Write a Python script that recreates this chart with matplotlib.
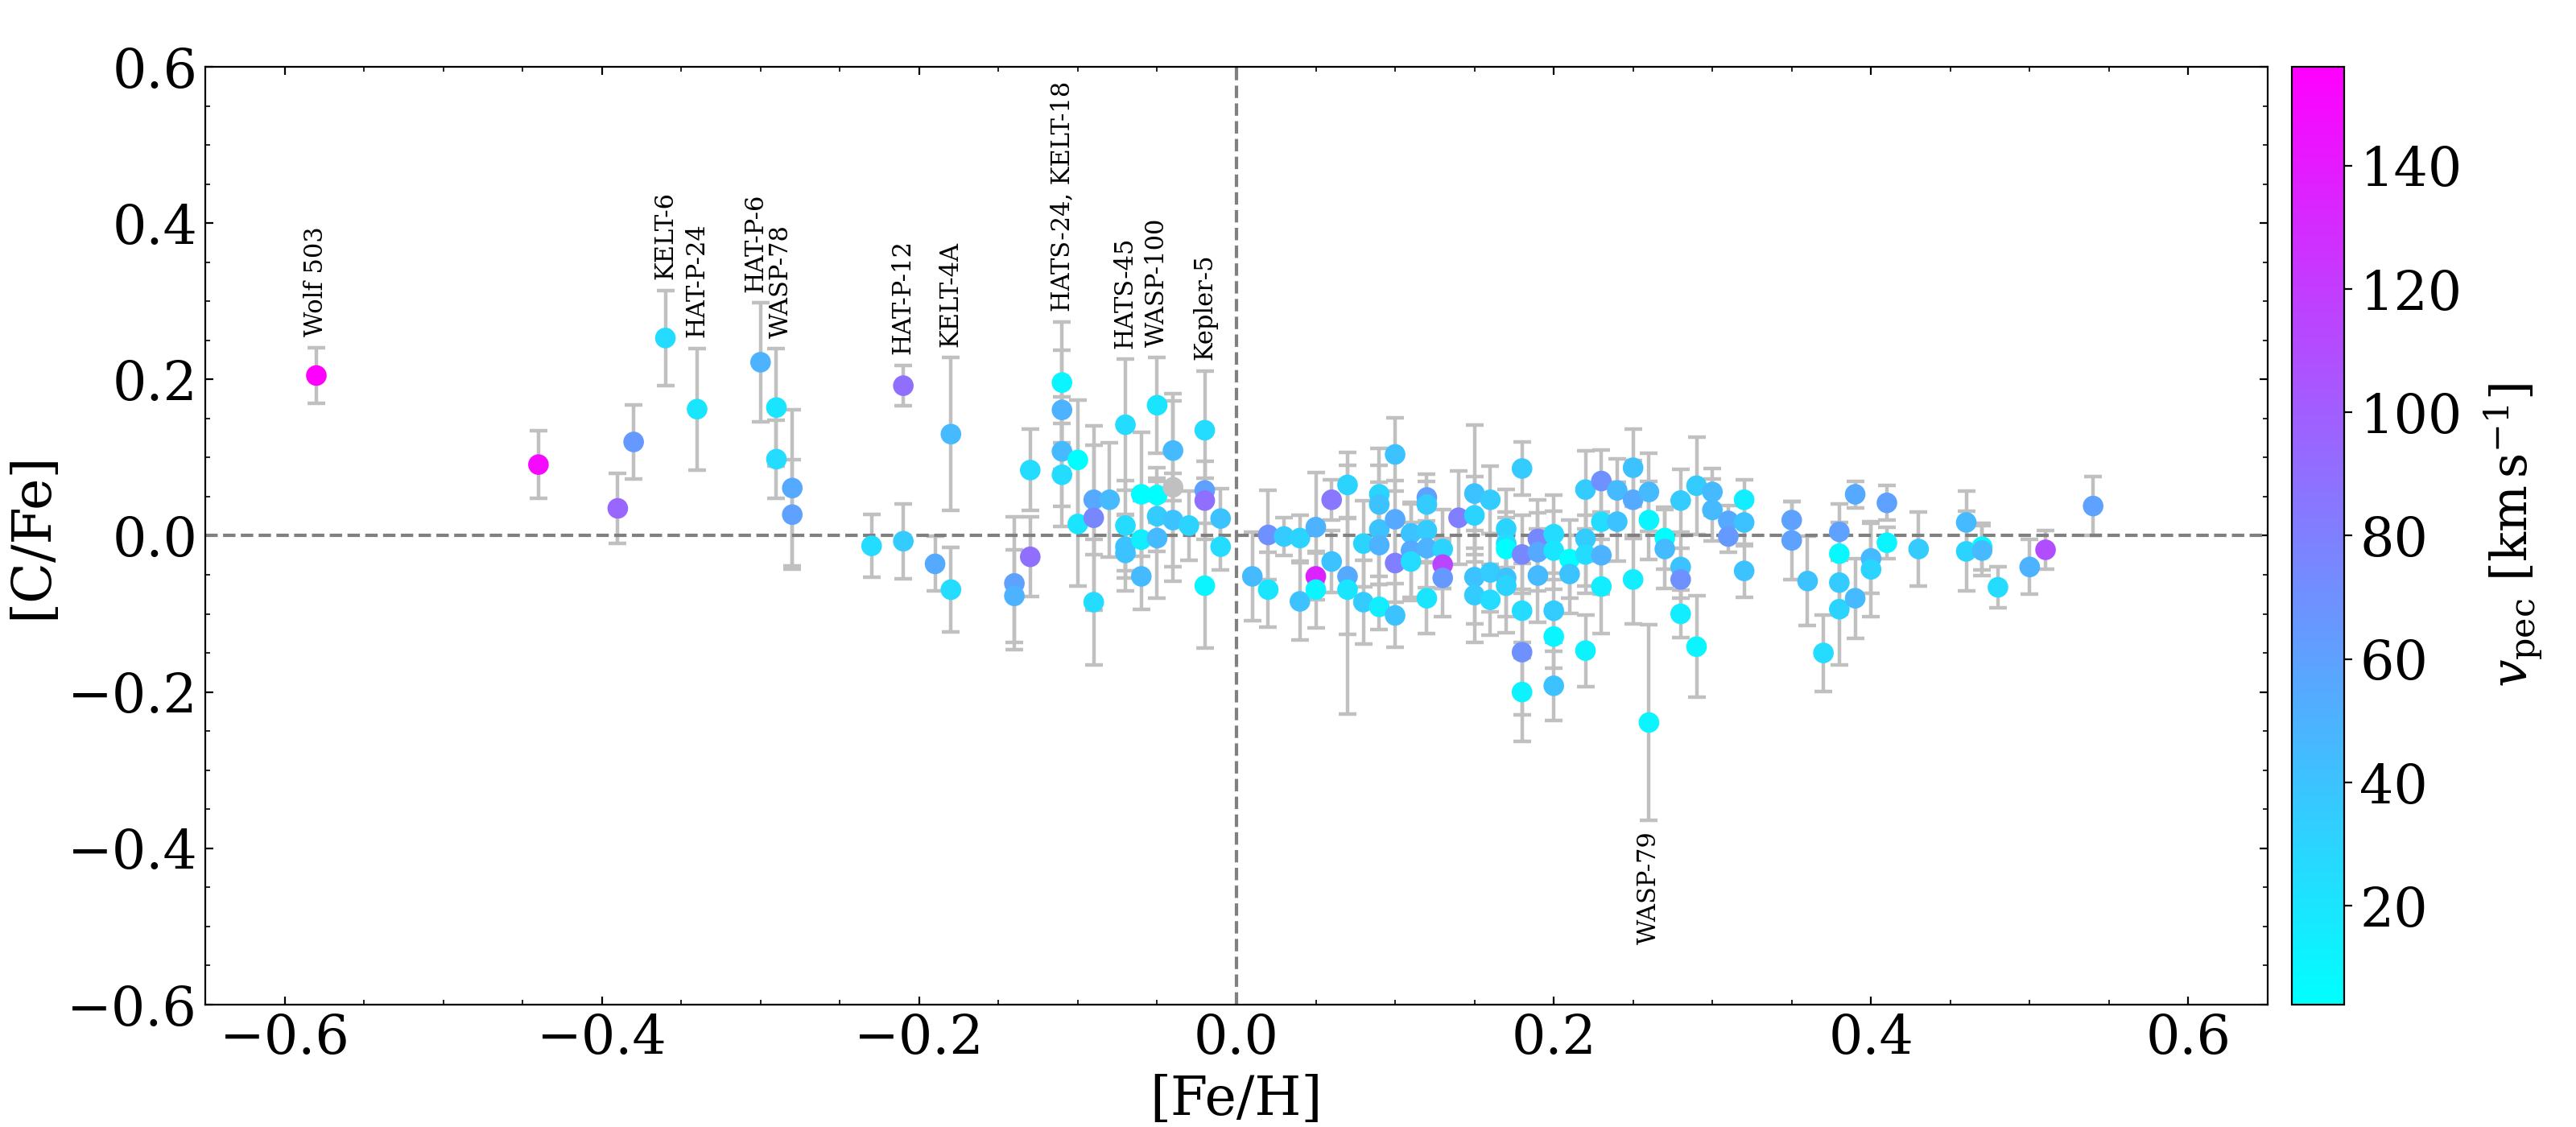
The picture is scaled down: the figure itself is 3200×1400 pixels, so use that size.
import numpy as np
import matplotlib
matplotlib.use("Agg")
import matplotlib.pyplot as plt

plt.rcParams['font.family'] = ['DejaVu Serif']
plt.rcParams['mathtext.fontset'] = 'dejavuserif'

# ---------------- data ----------------
feh = [-0.58, -0.44, -0.39, -0.38, -0.36, -0.34, -0.30, -0.29, -0.29, -0.28,
       -0.28, -0.23, -0.21, -0.21, -0.19, -0.18, -0.18, -0.14, -0.14, -0.13,
       -0.13, -0.11, -0.11, -0.11, -0.11, -0.10, -0.10, -0.09, -0.09, -0.09,
       -0.08, -0.07, -0.07, -0.07, -0.07, -0.06, -0.06, -0.06, -0.05, -0.05,
       -0.05, -0.05, -0.04, -0.04, -0.04, -0.03, -0.02, -0.02, -0.02, -0.02,
       -0.01, -0.01,
       0.01, 0.02, 0.02, 0.03, 0.04, 0.04, 0.05, 0.05, 0.05, 0.06,
       0.06, 0.07, 0.07, 0.07, 0.08, 0.08, 0.09, 0.09, 0.09, 0.09,
       0.09, 0.10, 0.10, 0.10, 0.10, 0.11, 0.11, 0.11, 0.12, 0.12,
       0.12, 0.12, 0.12, 0.13, 0.13, 0.13, 0.14, 0.15, 0.15, 0.15,
       0.15, 0.16, 0.16, 0.16, 0.17, 0.17, 0.17, 0.17, 0.17, 0.18,
       0.18, 0.18, 0.18, 0.18, 0.19, 0.19, 0.19, 0.20, 0.20, 0.20,
       0.20, 0.20, 0.21, 0.21, 0.22, 0.22, 0.22, 0.22, 0.23, 0.23,
       0.23, 0.23, 0.24, 0.24, 0.25, 0.25, 0.25, 0.26, 0.26, 0.26,
       0.27, 0.27, 0.28, 0.28, 0.28, 0.28, 0.29, 0.29, 0.30, 0.30,
       0.31, 0.31, 0.32, 0.32, 0.32, 0.35, 0.35, 0.36, 0.37, 0.38,
       0.38, 0.38, 0.38, 0.39, 0.39, 0.40, 0.40, 0.41, 0.41, 0.43,
       0.46, 0.46, 0.47, 0.47, 0.48, 0.50, 0.51, 0.54]

cfe = [0.205, 0.091, 0.035, 0.120, 0.253, 0.162, 0.222, 0.164, 0.098, 0.061,
       0.027, -0.013, -0.007, 0.192, -0.036, 0.130, -0.069, -0.061, -0.077, 0.084,
       -0.027, 0.196, 0.161, 0.108, 0.078, 0.097, 0.015, 0.046, 0.023, -0.085,
       0.046, 0.142, 0.013, -0.014, -0.022, 0.053, -0.005, -0.052, 0.167, 0.052,
       0.025, -0.003, 0.109, 0.062, 0.020, 0.013, 0.135, 0.058, 0.045, -0.064,
       0.022, -0.014,
       -0.052, 0.001, -0.069, -0.001, -0.003, -0.084, 0.011, -0.052, -0.069, 0.046,
       -0.033, 0.065, -0.052, -0.069, -0.010, -0.085, 0.053, 0.040, 0.008, -0.012,
       -0.091, 0.104, 0.021, -0.035, -0.102, 0.003, -0.019, -0.033, 0.049, 0.040,
       0.007, -0.016, -0.080, -0.017, -0.037, -0.054, 0.023, 0.054, 0.026, -0.053,
       -0.076, 0.046, -0.047, -0.082, 0.009, -0.010, -0.017, -0.054, -0.064, 0.086,
       -0.024, -0.096, -0.149, -0.200, -0.004, -0.021, -0.051, 0.002, -0.019, -0.096,
       -0.129, -0.192, -0.030, -0.049, 0.059, -0.004, -0.024, -0.147, 0.070, 0.018,
       -0.025, -0.065, 0.058, 0.018, 0.087, 0.046, -0.056, 0.056, 0.020, -0.239,
       -0.003, -0.017, 0.045, -0.040, -0.056, -0.100, 0.064, -0.142, 0.056, 0.033,
       0.019, -0.001, 0.046, 0.017, -0.045, 0.020, -0.006, -0.058, -0.150, 0.005,
       -0.023, -0.060, -0.094, 0.053, -0.080, -0.029, -0.043, 0.042, -0.009, -0.017,
       0.017, -0.020, -0.014, -0.019, -0.066, -0.040, -0.018, 0.038]

cfe_err = [0.036, 0.043, 0.045, 0.047, 0.061, 0.078, 0.076, 0.075, 0.050, 0.100,
           0.070, 0.040, 0.048, 0.026, 0.035, 0.098, 0.054, 0.085, 0.059, 0.052,
           0.051, 0.077, 0.076, 0.070, 0.066, 0.077, 0.079, 0.070, 0.118, 0.080,
           0.073, 0.084, 0.058, 0.040, 0.049, 0.079, 0.050, 0.042, 0.061, 0.035,
           0.045, 0.077, 0.064, 0.120, 0.060, 0.044, 0.076, 0.016, 0.050, 0.080,
           0.038, 0.030,
           0.057, 0.057, 0.048, 0.024, 0.029, 0.049, 0.070, 0.030, 0.049, 0.026,
           0.040, 0.042, 0.074, 0.159, 0.055, 0.054, 0.059, 0.050, 0.060, 0.050,
           0.029, 0.047, 0.050, 0.050, 0.041, 0.040, 0.060, 0.050, 0.030, 0.030,
           0.040, 0.050, 0.045, 0.050, 0.030, 0.050, 0.060, 0.088, 0.050, 0.060,
           0.060, 0.043, 0.050, 0.045, 0.050, 0.040, 0.040, 0.050, 0.060, 0.034,
           0.050, 0.060, 0.080, 0.063, 0.050, 0.050, 0.060, 0.050, 0.050, 0.040,
           0.040, 0.044, 0.050, 0.050, 0.050, 0.060, 0.050, 0.046, 0.040, 0.050,
           0.050, 0.060, 0.040, 0.050, 0.049, 0.050, 0.057, 0.050, 0.050, 0.125,
           0.040, 0.050, 0.040, 0.040, 0.040, 0.030, 0.062, 0.065, 0.030, 0.040,
           0.020, 0.020, 0.026, 0.030, 0.034, 0.024, 0.050, 0.057, 0.049, 0.036,
           0.040, 0.040, 0.071, 0.017, 0.051, 0.045, 0.061, 0.022, 0.020, 0.047,
           0.040, 0.051, 0.030, 0.032, 0.026, 0.035, 0.025, 0.038]

vpec = [156, 150, 95, 65, 25, 20, 50, 20, 25, 55,
        60, 25, 35, 90, 55, 45, 25, 60, 50, 25,
        90, 10, 50, 45, 25, 5, 20, 55, 75, 25,
        45, 25, 25, 40, 40, 5, 15, 45, 20, 5,
        35, 45, 45, np.nan, 40, 30, 25, 60, 90, 10,
        40, 25,
        45, 70, 20, 35, 30, 40, 50, 135, 10, 85,
        40, 30, 55, 20, 30, 35, 30, 40, 40, 50,
        15, 40, 55, 80, 40, 40, 55, 25, 60, 35,
        35, 50, 20, 30, 115, 65, 80, 40, 30, 40,
        35, 35, 35, 25, 30, 25, 5, 40, 30, 35,
        75, 25, 70, 12, 75, 55, 45, 25, 20, 35,
        10, 40, 4, 40, 35, 35, 25, 12, 70, 25,
        50, 15, 45, 40, 40, 55, 15, 45, 10, 10,
        5, 45, 35, 40, 70, 15, 35, 10, 45, 45,
        55, 65, 15, 40, 40, 60, 60, 40, 25, 60,
        8, 35, 30, 55, 45, 45, 30, 60, 10, 35,
        45, 30, 8, 45, 25, 50, 110, 60]

label_names = ['Wolf 503', 'KELT-6', 'HAT-P-24', 'HAT-P-6', 'WASP-78',
               'HAT-P-12', 'KELT-4A', 'HATS-24, KELT-18', 'HATS-45',
               'WASP-100', 'Kepler-5', 'WASP-79']
label_feh = [-0.58, -0.36, -0.34, -0.30, -0.29, -0.21, -0.18, -0.11, -0.07,
             -0.05, -0.02, 0.26]
label_cfe = [0.205, 0.253, 0.162, 0.222, 0.164, 0.192, 0.130, 0.196, 0.142,
             0.167, 0.135, -0.239]

# ---------------- figure ----------------
feh_a = np.array(feh)
cfe_a = np.array(cfe)
err_a = np.array(cfe_err)
v_a = np.array(vpec, dtype=float)

fig = plt.figure(figsize=(16, 7), dpi=200)
ax = fig.add_axes([0.0797, 0.1086, 0.8006, 0.8321])
cax = fig.add_axes([0.8897, 0.1086, 0.0203, 0.8321])

ax.errorbar(feh_a, cfe_a, yerr=err_a, fmt='none', ecolor='#c0c0c0',
            elinewidth=1.6, capsize=4, capthick=1.6, zorder=1)
ax.axhline(0, color='gray', ls='--', lw=1.5, zorder=2)
ax.axvline(0, color='gray', ls='--', lw=1.5, zorder=2)

cmap = plt.get_cmap('cool').copy()
cmap.set_bad('#c0c0c0')
sc = ax.scatter(feh_a, cfe_a, c=v_a, cmap=cmap, s=85, linewidths=0,
                zorder=3, plotnonfinite=True,
                vmin=np.nanmin(v_a), vmax=np.nanmax(v_a))

# labels
xshift = {'HAT-P-6': -0.003, 'WASP-78': 0.003}
for name, lx, ly in zip(label_names, label_feh, label_cfe):
    i = int(np.argmin(np.abs(feh_a - lx) + np.abs(cfe_a - ly)))
    tx = feh_a[i] + xshift.get(name, 0.0)
    if cfe_a[i] < 0:
        ax.text(tx, cfe_a[i] - err_a[i] - 0.014, name, rotation=90,
                ha='center', va='top', fontsize=11, zorder=4)
    else:
        ax.text(tx, cfe_a[i] + err_a[i] + 0.014, name, rotation=90,
                ha='center', va='bottom', fontsize=11, zorder=4)

ax.set_xlim(-0.65, 0.65)
ax.set_ylim(-0.6, 0.6)
ax.set_xticks([-0.6, -0.4, -0.2, 0.0, 0.2, 0.4, 0.6])
ax.set_yticks([-0.6, -0.4, -0.2, 0.0, 0.2, 0.4, 0.6])
ax.minorticks_on()
ax.tick_params(which='both', direction='in', top=True, right=True,
               labelsize=24)
ax.set_xlabel('[Fe/H]', fontsize=24)
ax.set_ylabel('[C/Fe]', fontsize=24)

cb = fig.colorbar(sc, cax=cax)
cb.set_ticks([20, 40, 60, 80, 100, 120, 140])
cb.ax.tick_params(labelsize=24)
cb.set_label(r'$v_{\rm pec}$ [$\rm km\,s^{-1}$]', fontsize=22, labelpad=9)

fig.savefig('out.png', dpi=200)
